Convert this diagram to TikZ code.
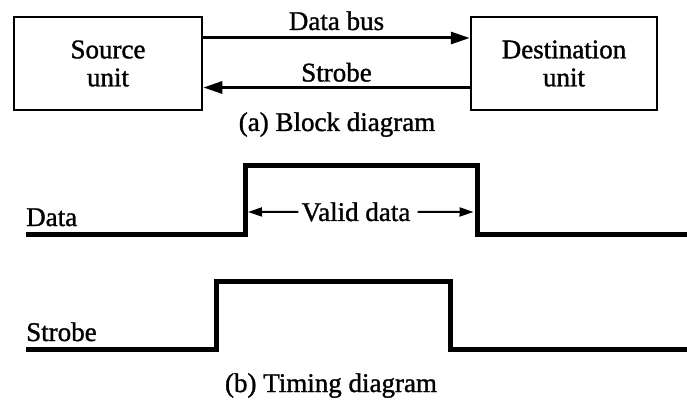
\documentclass[tikz,border=0pt]{standalone}
\usepackage{fontspec}
\setmainfont{Liberation Serif}[BoldFont={Liberation Serif},BoldFeatures={FakeBold=1.2}]
\usepackage{tikz}
\usetikzlibrary{arrows.meta,positioning}
\tikzset{
  unitbox/.style={draw,line width=2.5pt,minimum width=188pt,minimum height=93pt,align=center,inner sep=0pt,font=\fontsize{27}{28}\selectfont\bfseries},
  bus/.style={-{Triangle[length=19pt,width=12pt]},line width=3pt},
  sig/.style={line width=5pt},
  lbl/.style={font=\fontsize{27}{28}\selectfont\bfseries,inner sep=0pt},
  span/.style={-{Triangle[length=14pt,width=9pt]},line width=2pt}
}

\begin{document}
\begin{tikzpicture}[x=1pt,y=-1pt]
\useasboundingbox (0,0) rectangle (687,403);
% (a) block diagram
\node[unitbox] (src) at (108,63.5) {Source\\unit};
\node[unitbox,minimum width=186pt] (dst) at (564,63.5) {Destination\\unit};
\draw[bus] ([yshift=25.5pt]src.east) -- node[lbl,anchor=base,yshift=8pt] (buslbl) {Data bus} ([yshift=25.5pt]dst.west);
\draw[bus] ([yshift=-24pt]dst.west) -- node[lbl,anchor=base,yshift=6pt] (stblbl) {Strobe} ([yshift=-24pt]src.east);
\node[lbl,anchor=base] (capa) at (337,131) {(a) Block diagram};
% (b) timing diagram
\draw[sig] (26,234.5) -- (245,234.5) |- (477,165.5) |- (687,234.5);
\draw[sig] (26,349) -- (216,349) |- (450,281) |- (687,349);
\node[lbl,anchor=base west] (datasig) at (26,226) {Data};
\node[lbl,anchor=base west] (stbsig) at (26,341) {Strobe};
\node[lbl,anchor=base] (valid) at (356,221) {Valid data};
\coordinate (rise) at (248,212);
\coordinate (fall) at (473.5,212);
\draw[span] ([xshift=-3pt]valid.west) -- (rise);
\draw[span] ([xshift=7pt]valid.east) -- (fall);
\node[lbl,anchor=base] (capb) at (331,392) {(b) Timing diagram};
\end{tikzpicture}
\end{document}
